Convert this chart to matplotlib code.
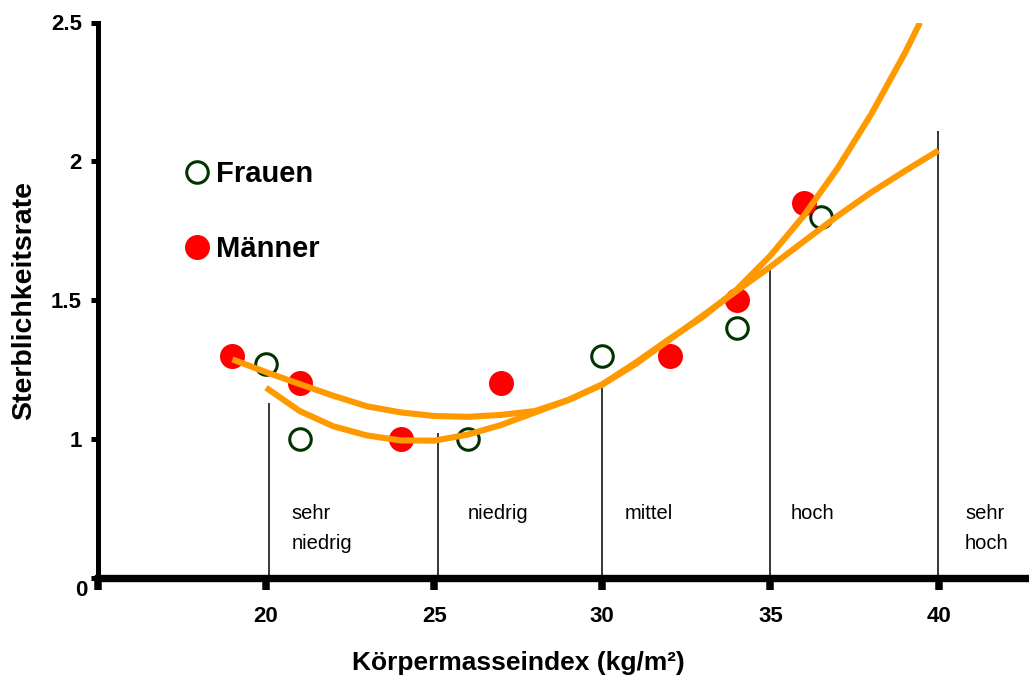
import matplotlib
matplotlib.use("Agg")
import matplotlib.pyplot as plt
from matplotlib.patches import Rectangle
from matplotlib.transforms import ScaledTranslation

plt.rcParams['font.family'] = ['Liberation Sans', 'DejaVu Sans']

# ---- data ----
frauen_x = [20.0, 21.0, 26.0, 30.0, 34.0, 36.5]
frauen_y = [1.27, 1.00, 1.00, 1.30, 1.40, 1.80]

maenner_x = [19.0, 21.0, 24.0, 27.0, 32.0, 34.0, 36.0]
maenner_y = [1.30, 1.20, 1.00, 1.20, 1.30, 1.50, 1.85]

# trend curves
curve_a_x = [20.0, 21.0, 22.0, 23.0, 24.0, 25.0, 26.0, 27.0, 28.0, 29.0, 30.0,
             31.0, 32.0, 33.0, 34.0, 35.0, 36.0, 37.0, 38.0, 39.0, 39.45]
curve_a_y = [1.184, 1.100, 1.045, 1.012, 0.994, 0.993, 1.015, 1.050, 1.095, 1.140, 1.196,
             1.275, 1.360, 1.440, 1.538, 1.660, 1.805, 1.975, 2.170, 2.390, 2.500]

curve_b_x = [19.0, 20.0, 21.0, 22.0, 23.0, 24.0, 25.0, 26.0, 27.0, 28.0, 29.0,
             30.0, 31.0, 32.0, 33.0, 34.0, 35.0, 36.0, 37.0, 38.0, 39.0, 40.0]
curve_b_y = [1.286, 1.240, 1.197, 1.155, 1.117, 1.095, 1.082, 1.079, 1.086, 1.100, 1.140,
             1.195, 1.270, 1.357, 1.445, 1.533, 1.620, 1.712, 1.803, 1.888, 1.965, 2.039]

# category boundaries and labels
boundary_x = [20.1, 25.1, 30.0, 35.0, 39.98]
boundary_top = [1.13, 1.02, 1.20, 1.62, 2.11]
categories = ["sehr\nniedrig", "niedrig", "mittel", "hoch", "sehr\nhoch"]
category_x = [20.76, 26.0, 30.68, 35.59, 40.79]
category_y = 0.765

x_ticks = [15, 20, 25, 30, 35, 40]
x_ticklabels = ["", "20", "25", "30", "35", "40"]
y_ticks = [0.5, 1.0, 1.5, 2.0, 2.5]
y_ticklabels = ["0", "1", "1.5", "2", "2.5"]

# ---- figure ----
fig = plt.figure(figsize=(10.29, 6.80), dpi=100)
ax = fig.add_axes([97.9 / 1029, 1 - 577.5 / 680, (1029 - 97.9) / 1029, 555 / 680])
ax.set_xlim(15, 42.69)
ax.set_ylim(0.5, 2.5)

orange = '#FF9900'
green = '#003300'
red = '#FF0000'

ax.vlines(boundary_x, 0.5, boundary_top, colors='black', linewidth=1.1, zorder=1)

ax.plot(frauen_x, frauen_y, linestyle='none', marker='o', ms=15.5, mfc='white',
        mec=green, mew=2.2, zorder=3, label='Frauen')
ax.plot(maenner_x, maenner_y, linestyle='none', marker='o', ms=18, mfc=red,
        mec=red, mew=0, zorder=3, label='Männer')

ax.plot(curve_a_x, curve_a_y, color=orange, lw=4.4, solid_capstyle='butt',
        solid_joinstyle='round', zorder=4)
ax.plot(curve_b_x, curve_b_y, color=orange, lw=4.4, solid_capstyle='butt',
        solid_joinstyle='round', zorder=4)

for lab, cx in zip(categories, category_x):
    t = ax.text(cx, category_y, lab, fontsize=14.5, ha='left', va='top',
                linespacing=1.72, color='black', zorder=2)
    if lab == "sehr\nniedrig":
        clip = Rectangle((20.2, 0.59), 4.8, 0.5, transform=ax.transData)
        t.set_clip_path(clip)

# spines
for s in ['top', 'right']:
    ax.spines[s].set_visible(False)
ax.spines['left'].set_linewidth(3.6)
ax.spines['bottom'].set_linewidth(5.3)
ax.spines['left'].set_capstyle('projecting')

ax.set_xticks(x_ticks)
ax.set_xticklabels(x_ticklabels)
ax.set_yticks(y_ticks)
ax.set_yticklabels(y_ticklabels)
ax.tick_params(axis='x', length=8.3, width=5.4, pad=12, labelsize=16)
ax.tick_params(axis='y', length=5, width=3.6, pad=6.5, labelsize=16)
for lbl in ax.get_xticklabels() + ax.get_yticklabels():
    lbl.set_fontweight('bold')

# shift the "0" label like the reference
zl = ax.get_yticklabels()[0]
zl.set_transform(zl.get_transform() + ScaledTranslation(6 / 100, -10 / 100, fig.dpi_scale_trans))

ax.set_xlabel('Körpermasseindex (kg/m²)', fontsize=19, fontweight='bold')
ax.xaxis.set_label_coords(0.452, -0.154)
ax.xaxis.label.set_va('center')
ax.set_ylabel('Sterblichkeitsrate', fontsize=20.5, fontweight='bold')
ax.yaxis.set_label_coords(-0.079, 0.50)
ax.yaxis.label.set_va('center')

leg = ax.legend(loc='center left', bbox_to_anchor=(185 / 1029, 1 - 211.5 / 680),
                bbox_transform=fig.transFigure, frameon=False, borderpad=0,
                borderaxespad=0, handlelength=0.8, handletextpad=0.25,
                labelspacing=1.62, prop={'weight': 'bold', 'size': 21})

fig.savefig('out.png', dpi=100)
